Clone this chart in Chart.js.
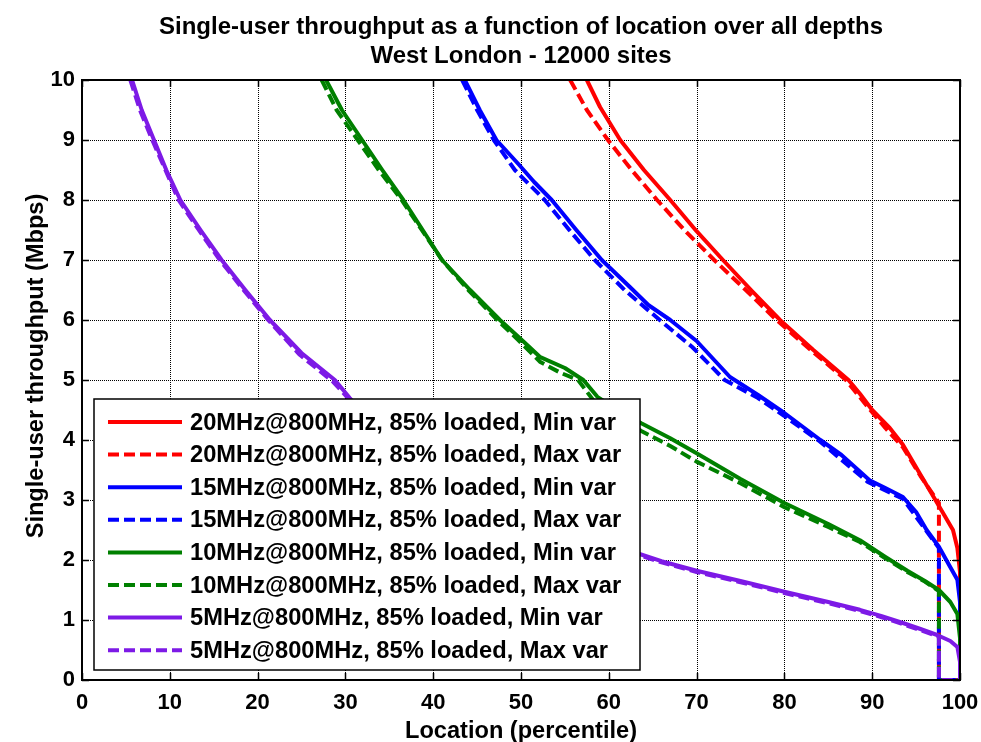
<!DOCTYPE html>
<html>
<head>
<meta charset="utf-8">
<script src="https://cdn.jsdelivr.net/npm/chart.js@4/dist/chart.umd.min.js"></script>
<style>
html,body{margin:0;padding:0;background:#fff;}
canvas{display:block;}
</style>
</head>
<body>
<canvas id="c" width="981" height="742"></canvas>
<script>
// ---- data ----
const titleLines = ["Single-user throughput as a function of location over all depths", "West London - 12000 sites"];
const xTitle = "Location (percentile)";
const yTitle = "Single-user throughput (Mbps)";
const xTicks = [0,10,20,30,40,50,60,70,80,90,100];
const yTicks = [0,1,2,3,4,5,6,7,8,9,10];

const labels = [
  "20MHz@800MHz, 85% loaded, Min var",
  "20MHz@800MHz, 85% loaded, Max var",
  "15MHz@800MHz, 85% loaded, Min var",
  "15MHz@800MHz, 85% loaded, Max var",
  "10MHz@800MHz, 85% loaded, Min var",
  "10MHz@800MHz, 85% loaded, Max var",
  "5MHz@800MHz, 85% loaded, Min var",
  "5MHz@800MHz, 85% loaded, Max var"
];

const red20MinX = [57.5,59.0,61.3,64.0,67.0,70.0,73.0,76.2,79.5,83.3,87.3,88.6,90.0,92.0,93.5,95.5,97.0,98.2,99.2,99.7,100,100];
const red20MinY = [10,9.55,9.0,8.5,8.0,7.48,7.0,6.5,6.0,5.5,5.0,4.77,4.5,4.2,3.92,3.42,3.05,2.75,2.5,2.2,1.8,0];
const red20MaxX = [55.6,57.5,59.9,62.6,65.5,68.6,72.0,75.6,79.1,83.0,87.0,89.5,91.5,93.5,95.5,97.6,97.6,100];
const red20MaxY = [10,9.5,9.0,8.5,8.0,7.5,7.0,6.5,6.0,5.5,5.0,4.55,4.2,3.88,3.4,2.95,0,0];

const blue15MinX = [43.6,45.3,47.2,49.7,51.5,53.5,56.3,59.2,62.4,64.5,67.0,70.0,73.8,77.0,80.0,84.1,86.5,89.7,91.5,93.5,95.0,96.2,97.6,98.9,99.7,100,100];
const blue15MinY = [10,9.5,9.0,8.6,8.3,8.0,7.5,7.0,6.55,6.25,6.0,5.65,5.05,4.75,4.45,4.0,3.75,3.33,3.2,3.05,2.8,2.5,2.22,1.88,1.67,1.3,0];
const blue15MaxX = [43.3,45.0,46.9,49.3,52.7,55.5,58.4,61.8,65.8,69.5,73.2,77.0,80.0,84.0,89.5,93.5,96.2,97.6,97.6,100];
const blue15MaxY = [10,9.5,9.0,8.5,8.0,7.5,7.0,6.5,6.0,5.55,5.0,4.7,4.4,3.98,3.3,3.02,2.48,2.2,0,0];

const green10MinX = [27.8,29.6,31.9,34.2,36.6,38.8,41.0,44.2,47.6,50.0,52.2,55.0,57.1,58.7,61.0,63.7,67.0,70.0,75.0,80.0,85.0,88.6,91.5,94.0,96.0,97.6,98.9,99.7,100,100];
const green10MinY = [10,9.5,9.0,8.5,8.0,7.5,7.0,6.5,6.0,5.68,5.38,5.2,5.0,4.72,4.5,4.28,4.03,3.78,3.35,2.95,2.6,2.33,2.05,1.82,1.65,1.5,1.3,1.1,0.7,0];
const green10MaxX = [27.3,29.0,31.4,33.8,36.4,38.7,41.0,44.0,47.3,49.8,52.2,54.5,56.5,58.3,61.0,63.7,67.0,70.0,75.0,80.0,85.0,88.6,91.5,94.0,96.0,97.6,97.6,100];
const green10MaxY = [10,9.5,9.0,8.5,8.0,7.5,7.0,6.5,6.0,5.65,5.3,5.12,5.0,4.65,4.38,4.15,3.9,3.64,3.28,2.88,2.55,2.3,2.03,1.8,1.64,1.48,0,0];

const purple5MinX = [5.7,6.8,8.2,9.6,11.2,13.5,15.9,18.6,21.4,25.0,28.8,30.5,35.0,40.0,45.0,50.0,55.0,60.0,63.5,66.0,70.0,75.0,80.0,85.0,88.6,91.0,93.5,95.5,97.4,98.9,99.7,100,100];
const purple5MinY = [10,9.5,9.0,8.5,8.0,7.5,7.0,6.5,6.0,5.45,5.0,4.7,3.95,3.35,2.9,2.6,2.35,2.18,2.1,1.98,1.82,1.65,1.47,1.3,1.17,1.07,0.95,0.85,0.75,0.65,0.55,0.3,0];
const purple5MaxX = [5.5,6.6,8.0,9.5,11.0,13.3,15.7,18.4,21.2,24.8,28.6,30.4,35,40,45,50,55,60,63.5,66,70,75,80,85,88.6,91,93.5,95.5,97.6,97.6,100];
const purple5MaxY = [10,9.5,9.0,8.5,8.0,7.5,7.0,6.5,6.0,5.42,4.97,4.68,3.93,3.33,2.88,2.58,2.33,2.16,2.08,1.96,1.8,1.63,1.45,1.28,1.15,1.05,0.93,0.83,0.72,0,0];

const RED = '#ff0000', BLUE = '#0000ff', GREEN = '#008000', PURPLE = '#7d1ae6';
const FONT = '"Liberation Sans", Arial, Helvetica, sans-serif';
const DASH = [11,5];

function pts(xs, ys){ return xs.map((x,i)=>({x:x, y:ys[i]})); }
function ds(label, xs, ys, color, dashed, order){
  return {label, data: pts(xs, ys), borderColor: color, backgroundColor: color,
    borderWidth: 4, borderDash: dashed ? DASH : [], pointRadius: 0, showLine: true,
    fill: false, tension: 0, order: order, borderCapStyle: 'butt', borderJoinStyle: 'round'};
}

const datasets = [
  ds(labels[0], red20MinX, red20MinY, RED, false, 8),
  ds(labels[1], red20MaxX, red20MaxY, RED, true, 7),
  ds(labels[2], blue15MinX, blue15MinY, BLUE, false, 6),
  ds(labels[3], blue15MaxX, blue15MaxY, BLUE, true, 5),
  ds(labels[4], green10MinX, green10MinY, GREEN, false, 4),
  ds(labels[5], green10MaxX, green10MaxY, GREEN, true, 3),
  ds(labels[6], purple5MinX, purple5MinY, PURPLE, false, 2),
  ds(labels[7], purple5MaxX, purple5MaxY, PURPLE, true, 1)
];

const decor = {
  id: 'decor',
  beforeDatasetsDraw(chart){
    const {ctx, chartArea: a, scales} = chart;
    ctx.save();
    ctx.strokeStyle = '#000';
    ctx.lineWidth = 1;
    ctx.setLineDash([1,1]);
    xTicks.forEach(v=>{
      const px = Math.round(scales.x.getPixelForValue(v)) + 0.5;
      ctx.beginPath(); ctx.moveTo(px, a.top); ctx.lineTo(px, a.bottom); ctx.stroke();
    });
    yTicks.forEach(v=>{
      const py = Math.round(scales.y.getPixelForValue(v)) + 0.5;
      ctx.beginPath(); ctx.moveTo(a.left, py); ctx.lineTo(a.right, py); ctx.stroke();
    });
    ctx.restore();
  },
  afterDatasetsDraw(chart){
    const {ctx, chartArea: a, scales} = chart;
    ctx.save();
    // inner tick marks
    ctx.strokeStyle = '#000'; ctx.lineWidth = 1.5; ctx.setLineDash([]);
    const tl = 7;
    xTicks.forEach(v=>{
      const px = Math.round(scales.x.getPixelForValue(v)) + 0.5;
      ctx.beginPath(); ctx.moveTo(px, a.bottom); ctx.lineTo(px, a.bottom - tl);
      ctx.moveTo(px, a.top); ctx.lineTo(px, a.top + tl); ctx.stroke();
    });
    yTicks.forEach(v=>{
      const py = Math.round(scales.y.getPixelForValue(v)) + 0.5;
      ctx.beginPath(); ctx.moveTo(a.left, py); ctx.lineTo(a.left + tl, py);
      ctx.moveTo(a.right, py); ctx.lineTo(a.right - tl, py); ctx.stroke();
    });
    // axes box
    ctx.lineWidth = 2;
    ctx.strokeRect(a.left, a.top, a.right - a.left, a.bottom - a.top);

    // legend
    const lx = 94, ly = 399, lw = 546, lh = 271;
    ctx.fillStyle = '#fff';
    ctx.fillRect(lx, ly, lw, lh);
    ctx.lineWidth = 1.5;
    ctx.strokeStyle = '#000';
    ctx.strokeRect(lx, ly, lw, lh);
    ctx.font = 'bold 23.7px ' + FONT;
    ctx.textBaseline = 'middle';
    ctx.textAlign = 'left';
    chart.data.datasets.forEach((d, i)=>{
      const cy = 422 + i * 32.6;
      ctx.strokeStyle = d.borderColor;
      ctx.lineWidth = 4;
      ctx.setLineDash(d.borderDash || []);
      ctx.beginPath(); ctx.moveTo(108, cy); ctx.lineTo(182, cy); ctx.stroke();
      ctx.setLineDash([]);
      ctx.fillStyle = '#000';
      ctx.fillText(d.label, 190, cy + 1);
    });

    // titles
    ctx.fillStyle = '#000';
    ctx.textAlign = 'center';
    ctx.textBaseline = 'alphabetic';
    ctx.font = 'bold 24px ' + FONT;
    const cx = (a.left + a.right) / 2;
    ctx.fillText(titleLines[0], cx, 34);
    ctx.fillText(titleLines[1], cx, 63);
    ctx.font = 'bold 23.6px ' + FONT;
    ctx.fillText(xTitle, cx, 738);
    ctx.save();
    ctx.translate(43, 366);
    ctx.rotate(-Math.PI/2);
    ctx.fillText(yTitle, 0, 0);
    ctx.restore();
    ctx.restore();
  }
};

new Chart(document.getElementById('c'), {
  type: 'scatter',
  data: { datasets },
  options: {
    responsive: false,
    animation: false,
    devicePixelRatio: 1,
    layout: { padding: { top: 80, right: 21, left: 0, bottom: 0 } },
    plugins: { legend: { display: false }, title: { display: false }, tooltip: { enabled: false } },
    scales: {
      x: {
        type: 'linear', min: 0, max: 100,
        afterFit(s){ s.height = 62; s.paddingLeft = 0; s.paddingRight = 0; },
        afterBuildTicks(s){ s.ticks = xTicks.map(v=>({value:v})); },
        grid: { display: false, drawTicks: false },
        border: { display: false },
        ticks: { color: '#000', padding: 10, maxRotation: 0, font: { family: FONT, size: 22, weight: 'bold' } }
      },
      y: {
        type: 'linear', min: 0, max: 10,
        afterFit(s){ s.width = 82; s.paddingTop = 0; s.paddingBottom = 0; },
        afterBuildTicks(s){ s.ticks = yTicks.map(v=>({value:v})); },
        grid: { display: false, drawTicks: false },
        border: { display: false },
        ticks: { color: '#000', padding: 7, font: { family: FONT, size: 22, weight: 'bold' } }
      }
    }
  },
  plugins: [decor]
});
</script>
</body>
</html>
